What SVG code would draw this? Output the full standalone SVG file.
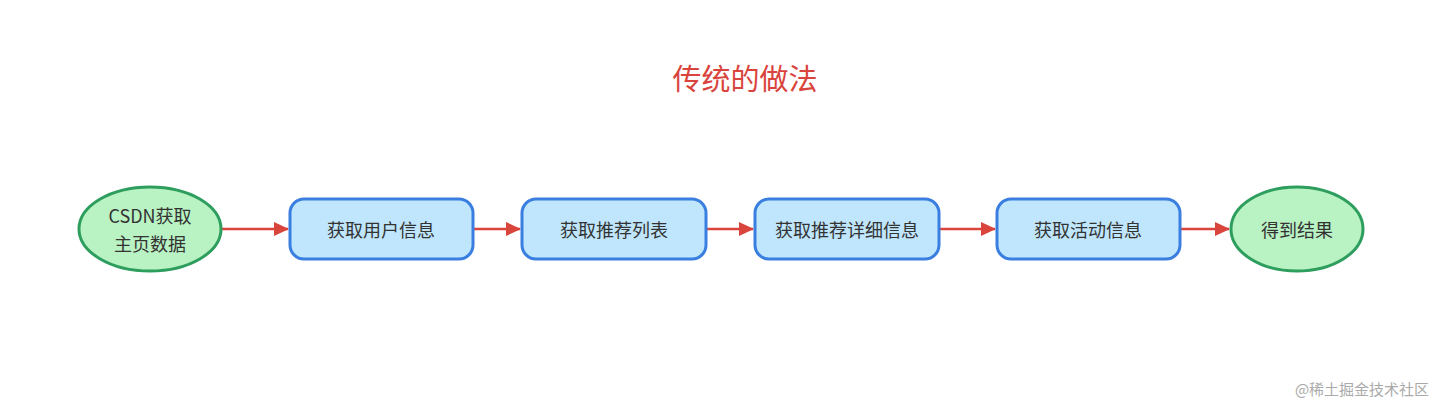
<svg xmlns="http://www.w3.org/2000/svg" width="1446" height="406" viewBox="0 0 1446 406">
<style>
text{font-family:"Noto Sans CJK SC","Noto Sans",sans-serif;fill:#333;font-size:18px;text-anchor:middle;dominant-baseline:central}
.e{fill:#b9f2c3;stroke:#2e9e5e;stroke-width:3}
.b{fill:#bfe6fc;stroke:#3a7fe0;stroke-width:3}
.c{stroke:#d9443c;stroke-width:2.5;fill:none;marker-end:url(#a)}
</style>
<defs><marker id="a" markerWidth="15" markerHeight="14" refX="14" refY="7" orient="auto" markerUnits="userSpaceOnUse" viewBox="0 0 15 14"><path d="M0,0L15,7L0,14z" fill="#d9443c"/></marker></defs>
<rect width="1446" height="406" fill="#fff"/>
<text x="745" y="77" style="font-size:29px;fill:#d9443c">传统的做法</text>
<g id="connectors">
<path class="c" d="M222,229H288"/>
<path class="c" d="M474,229H520"/>
<path class="c" d="M707,229H753"/>
<path class="c" d="M940,229H995"/>
<path class="c" d="M1181,229H1229"/>
</g>
<g id="n1"><ellipse class="e" cx="150" cy="229" rx="71" ry="42"/><text x="150" y="215">CSDN获取</text><text x="150" y="243">主页数据</text></g>
<g id="n2"><rect class="b" x="290" y="199" width="183" height="60" rx="14"/><text x="381" y="229">获取用户信息</text></g>
<g id="n3"><rect class="b" x="522" y="199" width="184" height="60" rx="14"/><text x="614" y="229">获取推荐列表</text></g>
<g id="n4"><rect class="b" x="755" y="199" width="184" height="60" rx="14"/><text x="847" y="229">获取推荐详细信息</text></g>
<g id="n5"><rect class="b" x="997" y="199" width="183" height="60" rx="14"/><text x="1088" y="229">获取活动信息</text></g>
<g id="n6"><ellipse class="e" cx="1297" cy="229" rx="66" ry="42"/><text x="1297" y="229">得到结果</text></g>
<text x="1362" y="388" style="font-size:15px;fill:#aaa">@稀土掘金技术社区</text>
</svg>
